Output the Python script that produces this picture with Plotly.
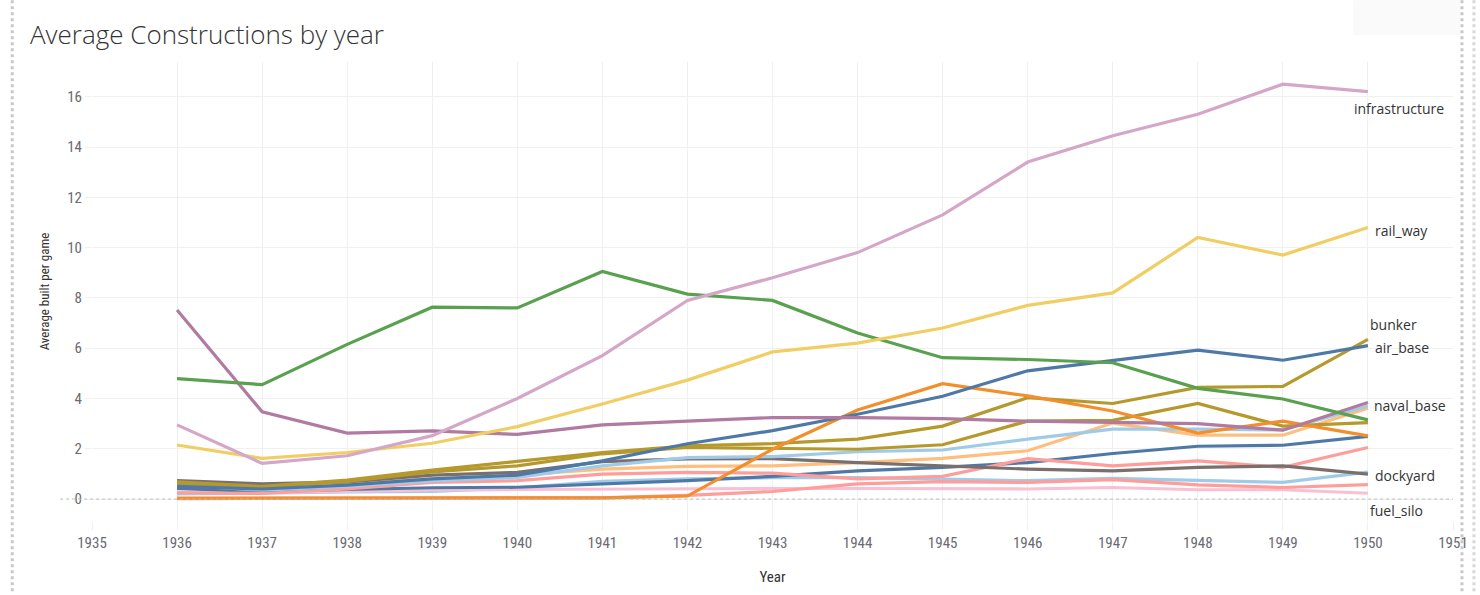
import plotly.graph_objects as go

years = list(range(1936, 1951))

# series values (average built per game)
infrastructure      = [2.95, 1.42, 1.72, 2.52, 4.0, 5.7, 7.9, 8.8, 9.8, 11.3, 13.4, 14.45, 15.3, 16.5, 16.2]
rail_way            = [2.15, 1.62, 1.85, 2.22, 2.88, 3.78, 4.73, 5.85, 6.2, 6.8, 7.7, 8.2, 10.4, 9.7, 10.8]
industrial_complex  = [4.79, 4.55, 6.15, 7.63, 7.6, 9.05, 8.15, 7.9, 6.6, 5.62, 5.55, 5.42, 4.4, 3.98, 3.15]
naval_base          = [7.52, 3.47, 2.62, 2.71, 2.57, 2.95, 3.1, 3.24, 3.24, 3.2, 3.1, 3.04, 3.0, 2.74, 3.84]
air_base            = [0.5, 0.4, 0.55, 0.8, 0.95, 1.52, 2.2, 2.72, 3.37, 4.09, 5.1, 5.5, 5.92, 5.52, 6.1]
bunker              = [0.68, 0.5, 0.75, 1.15, 1.5, 1.85, 2.12, 2.2, 2.38, 2.9, 4.03, 3.8, 4.44, 4.48, 6.35]
coastal_bunker      = [0.62, 0.48, 0.7, 1.08, 1.32, 1.8, 2.05, 2.02, 1.98, 2.16, 3.1, 3.13, 3.8, 2.9, 3.04]
dockyard            = [0.73, 0.6, 0.68, 0.95, 1.06, 1.49, 1.6, 1.61, 1.45, 1.32, 1.19, 1.12, 1.26, 1.32, 0.99]
anti_air_building   = [0.56, 0.35, 0.5, 0.72, 0.86, 1.32, 1.65, 1.69, 1.88, 1.95, 2.38, 2.78, 2.78, 2.75, 3.7]
arms_factory        = [0.66, 0.45, 0.6, 0.8, 0.95, 1.19, 1.3, 1.32, 1.45, 1.62, 1.92, 3.02, 2.54, 2.54, 3.61]
supply_node         = [0.04, 0.04, 0.04, 0.04, 0.04, 0.05, 0.12, 1.98, 3.54, 4.59, 4.1, 3.5, 2.62, 3.1, 2.51]
floating_harbor     = [0.25, 0.22, 0.4, 0.66, 0.73, 0.99, 1.06, 1.03, 0.8, 0.9, 1.61, 1.32, 1.52, 1.26, 2.05]
synthetic_refinery  = [0.42, 0.3, 0.38, 0.45, 0.47, 0.6, 0.73, 0.9, 1.12, 1.26, 1.45, 1.81, 2.1, 2.14, 2.49]
radar_station       = [0.2, 0.25, 0.28, 0.3, 0.45, 0.7, 0.8, 0.85, 0.85, 0.79, 0.73, 0.82, 0.73, 0.66, 1.07]
rocket_site         = [0.02, 0.02, 0.03, 0.03, 0.04, 0.05, 0.15, 0.3, 0.6, 0.69, 0.66, 0.77, 0.56, 0.46, 0.57]
fuel_silo           = [0.28, 0.26, 0.3, 0.36, 0.38, 0.4, 0.4, 0.42, 0.42, 0.4, 0.4, 0.46, 0.37, 0.37, 0.23]

series = [
    ("radar_station", radar_station, "#A0CBE8"),
    ("fuel_silo", fuel_silo, "#FABFD2"),
    ("rocket_site", rocket_site, "#FF9D9A"),
    ("synthetic_refinery", synthetic_refinery, "#4E79A7"),
    ("floating_harbor", floating_harbor, "#FF9D9A"),
    ("arms_factory", arms_factory, "#FFBE7D"),
    ("dockyard", dockyard, "#79706E"),
    ("anti_air_building", anti_air_building, "#A0CBE8"),
    ("coastal_bunker", coastal_bunker, "#B6992D"),
    ("bunker", bunker, "#B6992D"),
    ("supply_node", supply_node, "#F28E2B"),
    ("air_base", air_base, "#4E79A7"),
    ("naval_base", naval_base, "#B07AA1"),
    ("industrial_complex", industrial_complex, "#59A14F"),
    ("rail_way", rail_way, "#F1CE63"),
    ("infrastructure", infrastructure, "#D4A6C8"),
]

# end labels shown in the chart: (name, xshift px, yshift px)
end_labels = [
    ("infrastructure", -16, -17),
    ("rail_way", 5, -3),
    ("bunker", 0, 15),
    ("air_base", 5, -2),
    ("naval_base", 4, -3),
    ("dockyard", 5, -1),
    ("fuel_silo", 0, -17),
]

W, H = 1480, 595
L, R, T, B = 92, 23, 62, 73
PW, PH = W - L - R, H - T - B

def px(x):
    return (x - L) / PW

def py(y):
    return 1 - (y - T) / PH

FONT = "Liberation Sans Narrow, Roboto Condensed, Lato, sans-serif"
LABEL_FONT = "Open Sans, sans-serif"

fig = go.Figure()
for name, vals, col in series:
    fig.add_trace(go.Scatter(x=years, y=vals, mode="lines", name=name,
                             line=dict(color=col, width=3.2), showlegend=False))

lookup = {n: v for n, v, c in series}
for name, xs, ys in end_labels:
    fig.add_annotation(x=years[-1], y=lookup[name][-1], text=name, showarrow=False,
                       xanchor="left", yanchor="middle", xshift=xs, yshift=ys,
                       font=dict(family=LABEL_FONT, size=14, color="#333333"))

shapes = [
    # dotted zero line
    dict(type="line", xref="paper", yref="y", x0=px(60), x1=1, y0=0, y1=0,
         line=dict(color="#bbbbbb", width=1, dash="dot")),
    # dotted outer borders
    dict(type="line", xref="paper", yref="paper", x0=px(12), x1=px(12), y0=py(0), y1=py(595),
         line=dict(color="#c8c8c8", width=3, dash="dot")),
    dict(type="line", xref="paper", yref="paper", x0=px(1466), x1=px(1466), y0=py(0), y1=py(595),
         line=dict(color="#c8c8c8", width=3, dash="dot")),
    dict(type="line", xref="paper", yref="paper", x0=px(1478), x1=px(1478), y0=py(0), y1=py(595),
         line=dict(color="#d8d8d8", width=3, dash="dot")),
    dict(type="rect", xref="paper", yref="paper", x0=px(1357), x1=px(1464), y0=py(0), y1=py(35),
         fillcolor="#fafafa", line=dict(width=0), layer="below"),
]

fig.update_layout(
    width=W, height=H,
    margin=dict(l=L, r=R, t=T, b=B),
    plot_bgcolor="white", paper_bgcolor="white",
    title=dict(text="Average Constructions by year", x=30 / W, xref="container", xanchor="left",
               y=1 - 35 / H, yref="container", yanchor="middle",
               font=dict(family="Open Sans, sans-serif", size=26, color="#333333", weight=300)),
    shapes=shapes,
    font=dict(family=FONT, size=14, color="#666666"),
)

fig.update_xaxes(range=[1935, 1951], tickmode="linear", dtick=1, tick0=1935,
                 showgrid=True, gridcolor="#f0f0f0", gridwidth=1,
                 zeroline=False, showline=False,
                 ticks="outside", ticklen=8, tickcolor="#f0f0f0",
                 tickfont=dict(family=FONT, size=15, color="#6a6a72"),
                 title=dict(text="Year", standoff=20,
                            font=dict(family=FONT, size=15, color="#333333")))

fig.update_yaxes(range=[-0.873, 17.38], tickmode="linear", dtick=2, tick0=0,
                 showgrid=True, gridcolor="#f0f0f0", gridwidth=1,
                 zeroline=False, showline=False,
                 ticks="outside", ticklen=6, tickcolor="#f0f0f0",
                 tickfont=dict(family=FONT, size=15, color="#6a6a72"),
                 title=dict(text="Average built per game", standoff=14,
                            font=dict(family=FONT, size=13, color="#333333")))

fig.write_html("out.html",
               config={"displayModeBar": False},
               post_script="document.body.style.margin='0px';document.body.style.overflow='hidden';")
